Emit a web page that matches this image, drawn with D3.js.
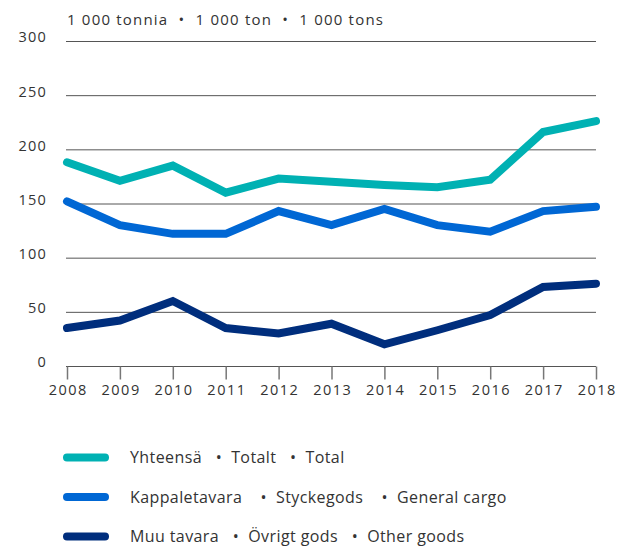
<!DOCTYPE html>
<html>
<head>
<meta charset="utf-8">
<script src="https://cdn.jsdelivr.net/npm/d3@7"></script>
<style>
  body { margin: 0; background: #fff; }
  text { font-family: "Open Sans", sans-serif; fill: #333; }
</style>
</head>
<body>
<div id="chart"></div>
<script>
// Data
var years = [2008, 2009, 2010, 2011, 2012, 2013, 2014, 2015, 2016, 2017, 2018];
var total = [188, 171, 185, 160, 173, 170, 167, 165, 172, 216, 226];
var generalCargo = [152, 130, 122, 122, 143, 130, 145, 130, 124, 143, 147];
var otherGoods = [35, 42, 60, 35, 30, 39, 20, 33, 47, 73, 76];
var yTicks = [0, 50, 100, 150, 200, 250, 300];
var seriesNames = [
    'Yhteensä   •  Totalt   •  Total',
    'Kappaletavara    •  Styckegods    •  General cargo',
    'Muu tavara   •  Övrigt gods   •  Other goods'
];
var seriesColors = ['#00b1b3', '#0067d4', '#002e7d'];
var unitLabel = '1 000 tonnia  •  1 000 ton  •  1 000 tons';

var chartWidth = 627;
var chartHeight = 549;

var svg = d3.select('#chart')
    .append('svg')
    .attr('width', chartWidth)
    .attr('height', chartHeight);

var x = d3.scaleLinear().domain([2008, 2018]).range([67, 596]);
var y = d3.scaleLinear().domain([0, 300]).range([366, 41]);

// gridlines
svg.selectAll('.grid')
    .data(yTicks)
    .enter()
    .append('line')
    .attr('x1', 66)
    .attr('x2', 596)
    .attr('y1', function(d){ return y(d) + 0.5; })
    .attr('y2', function(d){ return y(d) + 0.5; })
    .attr('stroke', '#555')
    .attr('stroke-width', 1);

svg.selectAll('.ylab')
    .data(yTicks)
    .enter()
    .append('text')
    .attr('x', 47)
    .attr('y', function(d){ return y(d); })
    .attr('dy', '0.1em')
    .attr('text-anchor', 'end')
    .style('font-size', '14.5px')
    .style('letter-spacing', '1.2px')
    .text(function(d){ return d; });

// x axis
var xAxis = d3.axisBottom(x)
    .tickValues(years)
    .tickFormat(d3.format('d'))
    .tickSize(13)
    .tickPadding(5);

var gx = svg.append('g')
    .attr('transform', 'translate(0,' + (y(0) + 0.5) + ')')
    .call(xAxis);
gx.select('.domain').remove();
gx.selectAll('line').attr('stroke', '#777').attr('stroke-width', 1.5);
gx.selectAll('text')
    .style('font-size', '14.5px')
    .style('letter-spacing', '1.5px')
    .style('font-family', '"Open Sans", sans-serif')
    .attr('dx', '0.05em')
    .attr('fill', '#333');

svg.append('text')
    .attr('x', 67)
    .attr('y', 25)
    .style('font-size', '15px')
    .style('letter-spacing', '1.2px')
    .style('white-space', 'pre')
    .text(unitLabel);

// lines
var line = d3.line()
    .x(function(d, i){ return x(years[i]); })
    .y(function(d){ return y(d); });

[total, generalCargo, otherGoods].forEach(function(s, i){
    svg.append('path')
        .attr('d', line(s))
        .attr('fill', 'none')
        .attr('stroke', seriesColors[i])
        .attr('stroke-width', 8)
        .attr('stroke-linejoin', 'miter')
        .attr('stroke-linecap', 'round');
});

// legend
var legend = svg.selectAll('.legend')
    .data(seriesNames)
    .enter()
    .append('g')
    .attr('transform', function(d, i){ return 'translate(0,' + (457.5 + i * 39.5) + ')'; });

legend.append('line')
    .attr('x1', 67)
    .attr('x2', 105)
    .attr('stroke', function(d, i){ return seriesColors[i]; })
    .attr('stroke-width', 8)
    .attr('stroke-linecap', 'round');

legend.append('text')
    .attr('x', 130)
    .attr('dy', '0.35em')
    .style('font-size', '16px')
    .style('letter-spacing', '0.4px')
    .style('white-space', 'pre')
    .text(function(d){ return d; });
</script>
</body>
</html>
